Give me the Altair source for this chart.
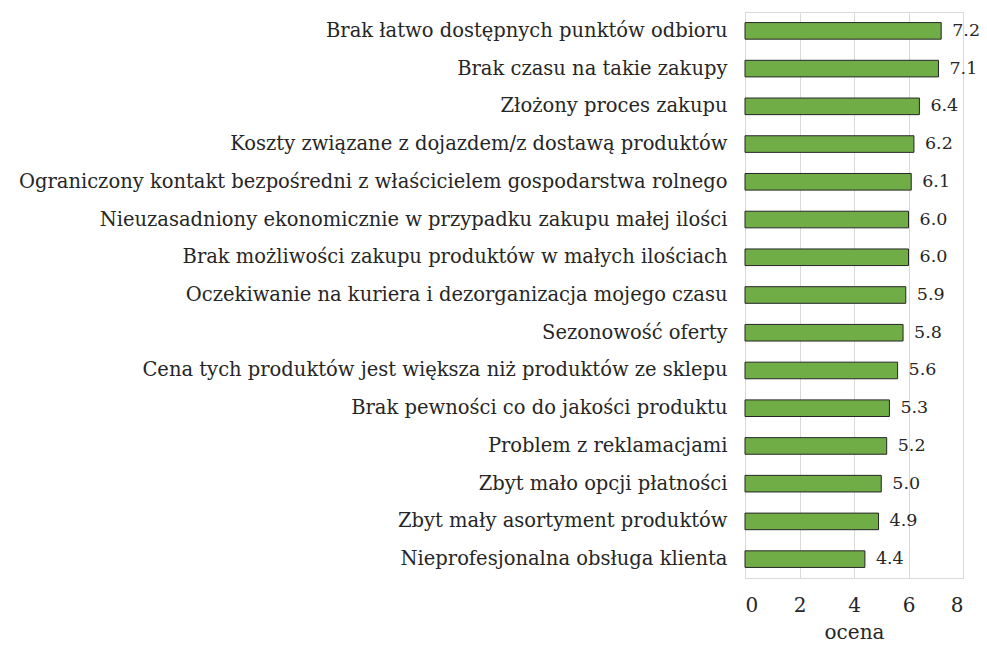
import altair as alt
import pandas as pd

categories = [
    "Brak łatwo dostępnych punktów odbioru",
    "Brak czasu na takie zakupy",
    "Złożony proces zakupu",
    "Koszty związane z dojazdem/z dostawą produktów",
    "Ograniczony kontakt bezpośredni z właścicielem gospodarstwa rolnego",
    "Nieuzasadniony ekonomicznie w przypadku zakupu małej ilości",
    "Brak możliwości zakupu produktów w małych ilościach",
    "Oczekiwanie na kuriera i dezorganizacja mojego czasu",
    "Sezonowość oferty",
    "Cena tych produktów jest większa niż produktów ze sklepu",
    "Brak pewności co do jakości produktu",
    "Problem z reklamacjami",
    "Zbyt mało opcji płatności",
    "Zbyt mały asortyment produktów",
    "Nieprofesjonalna obsługa klienta",
]
values = [7.2, 7.1, 6.4, 6.2, 6.1, 6.0, 6.0, 5.9, 5.8, 5.6, 5.3, 5.2, 5.0, 4.9, 4.4]

df = pd.DataFrame({"kategoria": categories, "ocena": values})
df["label"] = df["ocena"].map(lambda v: f"{v:.1f}")

FONT = "DejaVu Serif"
FS_CAT = 19.5
FS_VAL = 17.5
FS_X = 20
TXT = "#262626"

y_enc = alt.Y("kategoria:N", sort=categories, title=None,
              scale=alt.Scale(paddingInner=0.56, paddingOuter=0.28),
              axis=alt.Axis(labelFontSize=FS_CAT, labelColor=TXT,
                            labelPadding=18, ticks=False, domain=False, labelLimit=1000))
x_enc = alt.X("ocena:Q", title="ocena", scale=alt.Scale(domain=[0, 8]),
              axis=alt.Axis(values=[0, 2, 4, 6, 8], labelFontSize=FS_X,
                            labelColor=TXT, ticks=False, domain=False,
                            labelPadding=17, titleFontSize=FS_X,
                            titleFontWeight="normal", titleColor=TXT,
                            titleBaseline="alphabetic", titleY=60,
                            gridColor="#d9d9d9", gridWidth=1))

bars = alt.Chart(df).mark_bar(fill="#70AD47", stroke="#262626", strokeWidth=1).encode(
    x=x_enc, y=y_enc)
text = alt.Chart(df).mark_text(align="left", baseline="middle", dx=11, font=FONT,
                               fontSize=FS_VAL, color=TXT).encode(
    x="ocena:Q", y=alt.Y("kategoria:N", sort=categories), text="label:N")

chart = (bars + text).properties(
    width=218, height=566,
    autosize=alt.AutoSizeParams(type="none"),
    padding={"top": 4, "left": 737, "right": 16, "bottom": 65},
).configure(font=FONT, background="white").configure_axis(
    labelFont=FONT, titleFont=FONT
).configure_view(stroke="#d9d9d9", strokeWidth=1)

chart.save("out.html", embed_options={"renderer": "svg", "actions": False})
